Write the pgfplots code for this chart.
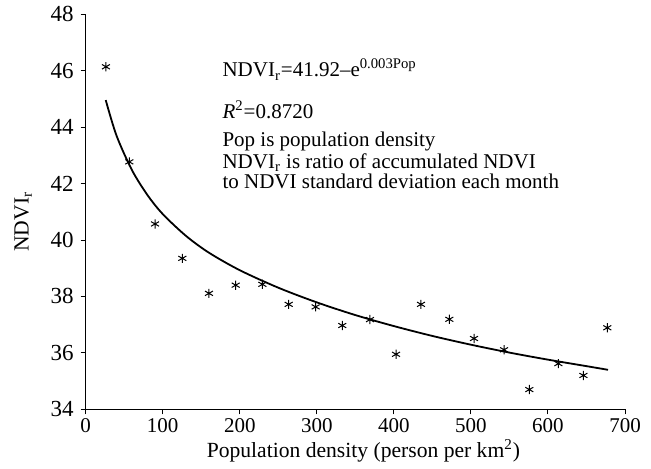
\documentclass[border=0pt]{standalone}
\usepackage{fontspec}
\setmainfont{Liberation Serif}
\usepackage{pgfplots}
\pgfplotsset{compat=1.18}
\begin{document}
\begin{tikzpicture}
\path[use as bounding box] (-42.85pt,-29.35pt) rectangle (282.65pt,204.65pt);
\begin{axis}[
  at={(0,0)}, anchor=south west,
  scale only axis, width=269.65pt, height=197.5pt,
  xmin=0, xmax=700, ymin=34, ymax=48,
  axis x line*=bottom, axis y line*=left,
  xtick={0,100,...,700}, ytick={34,36,...,48},
  tick align=outside, major tick length=2.5pt,
  tick style={black, line width=0.5pt},
  /pgf/number format/assume math mode=true,
  xticklabel style={font=\fontsize{10.5}{12}\selectfont, yshift=1.5pt},
  yticklabel style={font=\fontsize{11.5}{13}\selectfont},
  label style={font=\fontsize{10.8}{13}\selectfont},
  xlabel={Population density (person per km\textsuperscript{2})},
  ylabel={NDVI\textsubscript{r}},
  xlabel style={at={(axis description cs:0.515,-0.121)}, anchor=base},
  ylabel style={at={(axis description cs:-0.116,0.475)}, anchor=center},
  axis line style={black, line width=0.5pt},
  clip=false,
]
\addplot[only marks, mark=asterisk, mark size=2.3pt, mark options={line width=0.5pt, black}] coordinates {
(26.3,46.14) (56.6,42.77) (90,40.57) (125.4,39.35) (160,38.11)
(194.7,38.40) (229.3,38.43) (263.5,37.72) (298.5,37.63) (333,36.97)
(369,37.18) (402.8,35.95) (435.2,37.72) (472,37.19) (504,36.51)
(543,36.11) (575.8,34.70) (613.5,35.62) (646,35.20) (677,36.89)
};
\addplot[smooth, line width=0.9pt, black, no marks] coordinates {
(26,44.96) (40,43.70) (60,42.48) (80,41.60) (100,40.92) (130,40.15)
(160,39.55) (200,38.93) (250,38.31) (300,37.79) (350,37.34) (400,36.95)
(450,36.60) (500,36.29) (550,36.01) (600,35.76) (650,35.53) (678,35.40)
};
\node[anchor=base west, font=\fontsize{10.5}{12}\selectfont, inner sep=0pt] at (rel axis cs:0.253,0.842) {NDVI\textsubscript{r}=41.92–e\textsuperscript{0.003Pop}};
\node[anchor=base west, font=\fontsize{10.5}{12}\selectfont, inner sep=0pt] at (rel axis cs:0.253,0.737) {\textit{R}\textsuperscript{2}=0.8720};
\node[anchor=base west, font=\fontsize{10.5}{12}\selectfont, inner sep=0pt] at (rel axis cs:0.253,0.665) {Pop is population density};
\node[anchor=base west, font=\fontsize{10.5}{12}\selectfont, inner sep=0pt] at (rel axis cs:0.253,0.610) {NDVI\textsubscript{r} is ratio of accumulated NDVI};
\node[anchor=base west, font=\fontsize{10.5}{12}\selectfont, inner sep=0pt] at (rel axis cs:0.253,0.559) {to NDVI standard deviation each month};
\end{axis}
\end{tikzpicture}
\end{document}
